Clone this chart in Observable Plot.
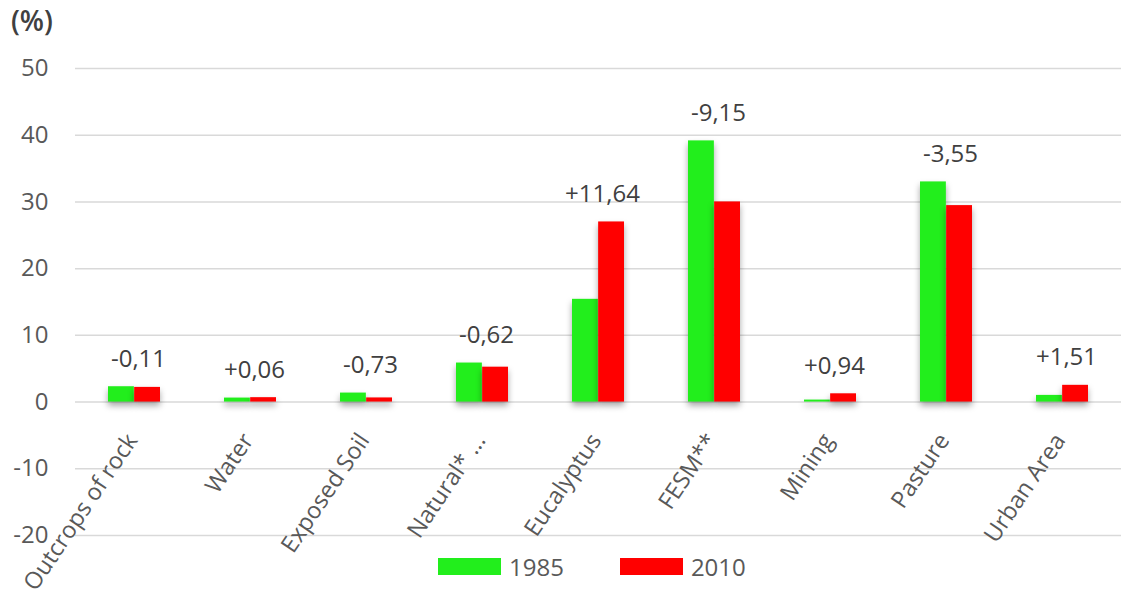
<!DOCTYPE html>
<html><head><meta charset="utf-8">
<script src="https://cdn.jsdelivr.net/npm/d3@7"></script>
<script src="https://cdn.jsdelivr.net/npm/@observablehq/plot@0.6"></script>
<style>
body{margin:0;background:#fff;font-family:"Open Sans",sans-serif;}
#wrap{position:relative;width:1121px;height:603px;overflow:hidden;}
#unit{position:absolute;left:11px;top:1px;font-size:28px;font-weight:600;color:#404040;}
#legend{position:absolute;top:550px;left:438px;display:flex;align-items:center;font-size:24px;color:#595959;}
.sw{width:63px;height:17px;display:inline-block;margin-right:8px}
.item{display:flex;align-items:center;margin-right:56px}
</style></head><body>
<div id="wrap"><div id="chart"></div><div id="unit">(%)</div><div id="legend"></div></div>
<script>
const categories = ["Outcrops of rock","Water","Exposed Soil","Natural* ...","Eucalyptus","FESM**","Mining","Pasture","Urban Area"];
const years = ["1985","2010"];
const values1985 = [2.3, 0.6, 1.35, 5.85, 15.4, 39.15, 0.3, 33.0, 1.0];
const values2010 = [2.2, 0.66, 0.62, 5.23, 27.0, 30.0, 1.24, 29.45, 2.51];
const changes = ["-0,11","+0,06","-0,73","-0,62","+11,64","-9,15","+0,94","-3,55","+1,51"];
const yTicks = [-20,-10,0,10,20,30,40,50];
const colors = ["#22ee1c","#ff0000"];

const rows1985 = categories.map((c,i)=>({category:c, year:years[0], value:values1985[i]}));
const rows2010 = categories.map((c,i)=>({category:c, year:years[1], value:values2010[i]}));
const labels = categories.map((c,i)=>({category:c, top:Math.max(values1985[i], values2010[i]), text:changes[i]}));

const W = 1121, mL = 75, mR = 0;
const step = (W - mL - mR) / 9;
const half = step * 0.45 / 2;

const chart = Plot.plot({
  width: W, height: 603,
  marginTop: 68, marginBottom: 68, marginLeft: mL, marginRight: mR,
  style: {fontFamily: "'Open Sans', sans-serif", background: "#fff", overflow: "visible"},
  x: {domain: categories, paddingInner: 0.55, paddingOuter: 0.275, axis: null},
  y: {domain: [-20, 50], axis: null},
  color: {domain: years, range: colors},
  marks: [
    Plot.ruleY(yTicks, {stroke: "#d9d9d9", strokeWidth: 1.5}),
    Plot.axisY({ticks: yTicks, tickFormat: d => String(d), tickSize: 0, tickPadding: 27, fontSize: 24, fill: "#595959", label: null}),
    Plot.barY(rows1985, {x: "category", y: "value", fill: "year", insetRight: half}),
    Plot.barY(rows2010, {x: "category", y: "value", fill: "year", insetLeft: half}),
    Plot.text(labels, {x: "category", y: "top", text: "text", lineAnchor: "bottom", dy: -20, dx: 4, fontSize: 24, fill: "#404040"}),
    Plot.text(categories, {x: d => d, y: 0, text: d => d, rotate: -56, textAnchor: "end", lineAnchor: "top", dx: -10, dy: 29, fontSize: 23.5, fill: "#595959"})
  ]
});
document.getElementById("chart").appendChild(chart);
chart.querySelectorAll('g[aria-label="bar"]').forEach(g => g.style.filter = "drop-shadow(0px 4px 3px rgba(0,0,0,0.35))");

const legend = document.getElementById("legend");
years.forEach((y,i) => {
  const item = document.createElement("div"); item.className = "item";
  const sw = document.createElement("span"); sw.className = "sw"; sw.style.background = colors[i];
  const t = document.createElement("span"); t.textContent = y;
  item.appendChild(sw); item.appendChild(t); legend.appendChild(item);
});
</script>
</body></html>
